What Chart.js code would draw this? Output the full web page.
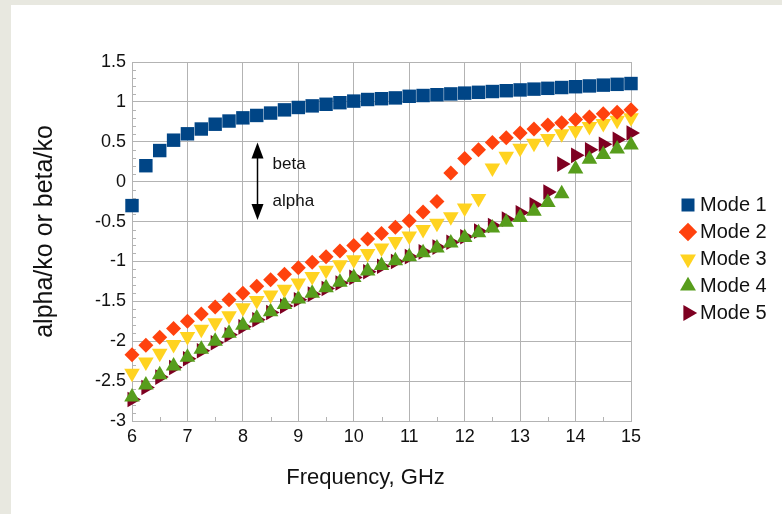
<!DOCTYPE html>
<html>
<head>
<meta charset="utf-8">
<script src="https://cdn.jsdelivr.net/npm/chart.js@4/dist/chart.umd.min.js"></script>
<style>
  html, body { margin: 0; padding: 0; background: #e8e8e0; }
  #wrap { position: absolute; left: 11px; top: 5px; width: 771px; height: 509px; background: #fff; }
  canvas { display: block; }
</style>
</head>
<body>
<div id="wrap"><canvas id="chart" width="771" height="509" style="width:771px;height:509px"></canvas></div>
<script>
// frequency points, GHz
const freq = [6, 6.25, 6.5, 6.75, 7, 7.25, 7.5, 7.75, 8, 8.25, 8.5, 8.75, 9, 9.25, 9.5, 9.75,
  10, 10.25, 10.5, 10.75, 11, 11.25, 11.5, 11.75, 12, 12.25, 12.5, 12.75, 13, 13.25, 13.5, 13.75,
  14, 14.25, 14.5, 14.75, 15]

const mode1 = [-0.30, 0.20, 0.39, 0.52, 0.60, 0.66, 0.72, 0.76, 0.80, 0.83, 0.86, 0.90, 0.93, 0.95, 0.97, 0.99,
  1.01, 1.03, 1.04, 1.05, 1.07, 1.08, 1.09, 1.10, 1.11, 1.12, 1.13, 1.14, 1.15, 1.16, 1.17, 1.18,
  1.19, 1.20, 1.21, 1.22, 1.23]
const mode2 = [-2.17, -2.05, -1.95, -1.84, -1.75, -1.66, -1.57, -1.48, -1.40, -1.31, -1.23, -1.16, -1.08, -1.01, -0.94, -0.87,
  -0.80, -0.72, -0.65, -0.57, -0.49, -0.38, -0.25, 0.11, 0.29, 0.40, 0.49, 0.55, 0.61, 0.66, 0.71, 0.74,
  0.78, 0.81, 0.85, 0.87, 0.90]
const mode3 = [-2.40, -2.26, -2.15, -2.04, -1.94, -1.85, -1.77, -1.68, -1.58, -1.49, -1.42, -1.35, -1.27, -1.19, -1.11, -1.04,
  -0.98, -0.90, -0.83, -0.75, -0.68, -0.60, -0.52, -0.44, -0.33, -0.21, 0.17, 0.32, 0.42, 0.48, 0.54, 0.60,
  0.64, 0.69, 0.73, 0.77, 0.80]
const mode4 = [-2.70, -2.55, -2.42, -2.31, -2.20, -2.10, -2.00, -1.90, -1.80, -1.71, -1.63, -1.54, -1.47, -1.40, -1.33, -1.26,
  -1.20, -1.12, -1.05, -0.99, -0.94, -0.89, -0.83, -0.77, -0.70, -0.64, -0.58, -0.51, -0.45, -0.37, -0.26, -0.15,
  0.16, 0.28, 0.34, 0.41, 0.46]
const mode5 = [-2.73, -2.58, -2.45, -2.33, -2.22, -2.12, -2.02, -1.92, -1.82, -1.73, -1.64, -1.56, -1.48, -1.41, -1.34, -1.27,
  -1.20, -1.13, -1.06, -1.00, -0.94, -0.88, -0.82, -0.76, -0.69, -0.62, -0.55, -0.47, -0.39, -0.29, -0.13, 0.22,
  0.33, 0.40, 0.47, 0.53, 0.61]

const seriesNames = ['Mode 1', 'Mode 2', 'Mode 3', 'Mode 4', 'Mode 5']
const seriesValues = [mode1, mode2, mode3, mode4, mode5]
const seriesColors = ['#004586', '#ff420e', '#ffd320', '#579d1c', '#7e0021']
const seriesShapes = ['rect', 'rectRot', 'triangle', 'triangle', 'triangle']
const seriesRotation = [0, 0, 180, 0, 90]
const seriesRadius = [9.5, 7.5, 9, 9, 9]

const xTitle = 'Frequency, GHz'
const yTitle = 'alpha/ko or beta/ko'

const xMin = 6, xMax = 15
const yMin = -3, yMax = 1.5

const gridColor = '#b3b3b3'
const textColor = '#111'
const fontFamily = '"Liberation Sans", Arial, sans-serif'

let dataSets = []
for (let i = 0; i < seriesNames.length; i++) {
  dataSets.push({
    label: seriesNames[i],
    data: freq.map((f, k) => ({ x: f, y: seriesValues[i][k] })),
    showLine: false,
    clip: false,
    pointStyle: seriesShapes[i],
    pointRotation: seriesRotation[i],
    pointRadius: seriesRadius[i],
    pointHoverRadius: seriesRadius[i],
    pointBackgroundColor: seriesColors[i],
    pointBorderColor: seriesColors[i],
    pointBorderWidth: 0,
    backgroundColor: seriesColors[i],
    borderColor: seriesColors[i]
  })
}

// small inside ticks, axis titles, beta/alpha arrows, legend placement
const extras = {
  id: 'extras',
  afterLayout(chart) {
    const lg = chart.legend
    lg.left = 668
    lg.right = 771
    lg.width = 103
    lg.top = 183
    lg.bottom = 509
    lg.height = 326
  },
  beforeDatasetsDraw(chart) {
    const ctx = chart.ctx
    const xs = chart.scales.x, ys = chart.scales.y
    const area = chart.chartArea
    ctx.save()
    ctx.strokeStyle = gridColor
    ctx.lineWidth = 1
    ctx.beginPath()
    for (let v = yMin; v <= yMax + 1e-9; v += 0.1) {
      const r = Math.round(v * 10)
      if (r % 5 === 0) continue
      const py = Math.round(ys.getPixelForValue(r / 10)) + 0.5
      ctx.moveTo(area.left, py)
      ctx.lineTo(area.left + 4, py)
    }
    for (let v = xMin + 0.5; v < xMax; v += 1) {
      const px = Math.round(xs.getPixelForValue(v)) + 0.5
      ctx.moveTo(px, area.bottom)
      ctx.lineTo(px, area.bottom - 4)
    }
    ctx.stroke()
    ctx.restore()
  },
  afterDraw(chart) {
    const ctx = chart.ctx
    const xs = chart.scales.x, ys = chart.scales.y
    const area = chart.chartArea

    // axis titles
    ctx.save()
    ctx.fillStyle = textColor
    ctx.textAlign = 'center'
    ctx.textBaseline = 'middle'
    ctx.font = '22px ' + fontFamily
    ctx.fillText(xTitle, (area.left + area.right) / 2 - 16, area.bottom + 57)
    ctx.translate(34, (area.top + area.bottom) / 2 - 10)
    ctx.rotate(-Math.PI / 2)
    ctx.font = '25px ' + fontFamily
    ctx.fillText(yTitle, 0, 0)
    ctx.restore()

    // beta / alpha arrows
    const ax = Math.round(xs.getPixelForValue(8.25)) + 0.5
    const y0 = ys.getPixelForValue(0)
    const yTop = ys.getPixelForValue(0.49)
    const yBot = ys.getPixelForValue(-0.48)
    ctx.save()
    ctx.strokeStyle = '#000'
    ctx.fillStyle = '#000'
    ctx.lineWidth = 1.5
    ctx.beginPath()
    ctx.moveTo(ax, yTop + 12)
    ctx.lineTo(ax, yBot - 12)
    ctx.stroke()
    ctx.beginPath()
    ctx.moveTo(ax, yTop)
    ctx.lineTo(ax - 6, yTop + 16)
    ctx.lineTo(ax + 6, yTop + 16)
    ctx.closePath()
    ctx.fill()
    ctx.beginPath()
    ctx.moveTo(ax, yBot)
    ctx.lineTo(ax - 6, yBot - 16)
    ctx.lineTo(ax + 6, yBot - 16)
    ctx.closePath()
    ctx.fill()
    ctx.font = '17px ' + fontFamily
    ctx.textBaseline = 'middle'
    ctx.fillStyle = textColor
    ctx.fillText('beta', ax + 15, (yTop + y0) / 2 + 2)
    ctx.fillText('alpha', ax + 15, (yBot + y0) / 2)
    ctx.restore()
  }
}

new Chart(document.getElementById('chart'), {
  type: 'scatter',
  data: { datasets: dataSets },
  plugins: [extras],
  options: {
    responsive: false,
    animation: false,
    events: [],
    layout: { padding: { left: 0, top: 57, right: 151, bottom: 0 } },
    plugins: {
      tooltip: { enabled: false },
      legend: {
        position: 'chartArea',
        align: 'start',
        labels: {
          usePointStyle: true,
          boxWidth: 4,
          boxHeight: 13,
          padding: 7,
          color: textColor,
          font: { family: fontFamily, size: 20 }
        }
      }
    },
    scales: {
      x: {
        type: 'linear',
        min: xMin,
        max: xMax,
        afterFit(axis) { axis.height = 93 },
        ticks: { stepSize: 1, padding: 5, color: textColor, font: { family: fontFamily, size: 18 } },
        grid: { color: gridColor, drawTicks: false, tickLength: 0 },
        border: { color: gridColor }
      },
      y: {
        type: 'linear',
        min: yMin,
        max: yMax,
        afterFit(axis) { axis.width = 121 },
        ticks: {
          stepSize: 0.5,
          padding: 6,
          color: textColor,
          font: { family: fontFamily, size: 18 },
          callback: (v) => String(Number(v.toFixed(1)))
        },
        grid: { color: gridColor, drawTicks: false, tickLength: 0 },
        border: { color: gridColor }
      }
    }
  }
})
</script>
</body>
</html>
